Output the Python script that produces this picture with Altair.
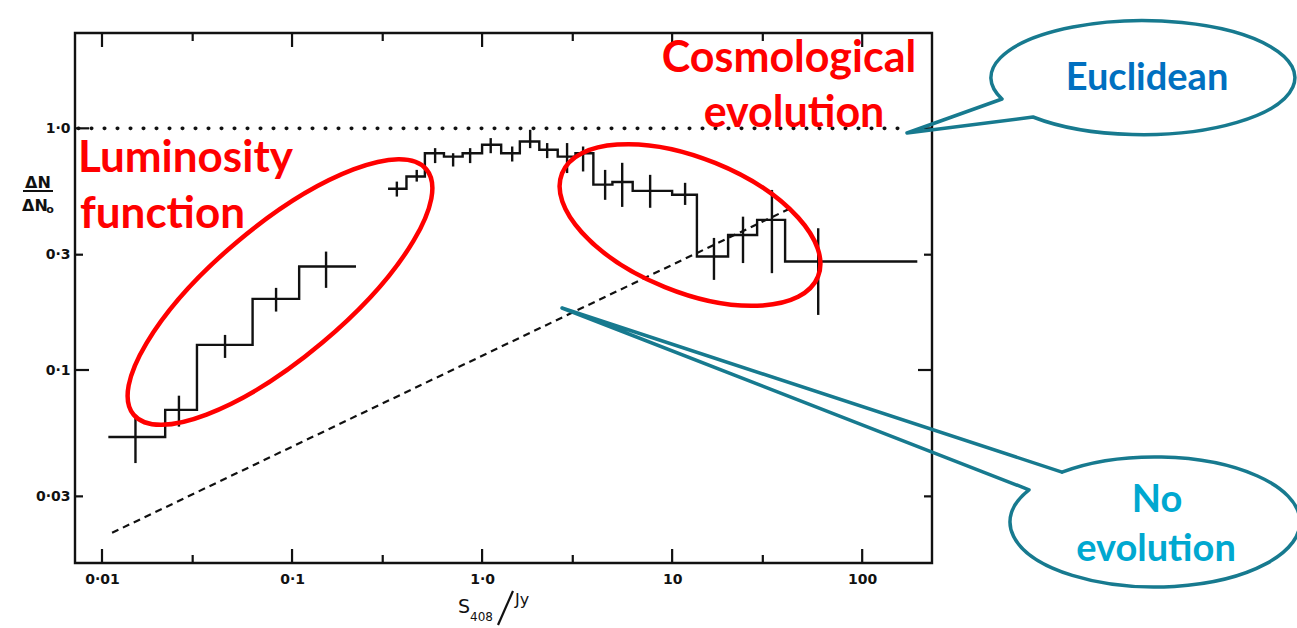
import altair as alt
import pandas as pd

# ---------------------------------------------------------------- axes
X_DOMAIN = [0.00721, 233.0]
Y_DOMAIN = [0.0159, 2.48]
x_major = [0.01, 0.1, 1.0, 10.0, 100.0]
x_major_labels = ["0·01", "0·1", "1·0", "10", "100"]
x_minor = [0.03, 0.3, 3.0, 30.0]
y_major = [1.0, 0.1]
y_minor = [0.3, 0.03]
y_labelled = [1.0, 0.3, 0.1, 0.03]
y_labels = ["1·0", "0·3", "0·1", "0·03"]

# ---------------------------------------------------------------- data
# faint-source counts (S408 below ~0.2 Jy): bin edges, normalised counts, error bars
low_edges = [0.0108, 0.0215, 0.0316, 0.062, 0.109, 0.217]
low_vals = [0.0528, 0.0684, 0.127, 0.197, 0.268]
low_err_x = [0.0150, 0.0254, 0.0444, 0.0824, 0.151]
low_err_hi = [0.0633, 0.0783, 0.1397, 0.2187, 0.309]
low_err_lo = [0.0412, 0.0583, 0.1122, 0.1745, 0.2187]

# brighter sources (S408 above ~0.3 Jy)
high_edges = [0.32, 0.40, 0.50, 0.63, 0.79, 1.0, 1.26, 1.58, 2.0, 2.5,
              3.1, 3.85, 4.85, 6.2, 10.0, 13.5, 19.7, 28.0, 39.3, 195.0]
high_vals = [0.562, 0.632, 0.789, 0.764, 0.789, 0.855, 0.789, 0.882, 0.815, 0.764,
             0.789, 0.585, 0.600, 0.551, 0.531, 0.295, 0.362, 0.418, 0.281]
high_err_x = [0.356, 0.453, 0.566, 0.704, 0.865, 1.11, 1.44, 1.79, 2.2, 2.8,
              3.4, 4.44, 5.46, 7.66, 11.7, 16.6, 23.6, 33.5, 58.7]
high_err_hi = [0.602, 0.673, 0.828, 0.789, 0.828, 0.911, 0.841, 0.986, 0.869, 0.869,
               0.841, 0.673, 0.720, 0.642, 0.595, 0.352, 0.431, 0.556, 0.386]
high_err_lo = [0.522, 0.602, 0.718, 0.695, 0.718, 0.789, 0.729, 0.828, 0.753, 0.653,
               0.663, 0.506, 0.473, 0.469, 0.482, 0.236, 0.277, 0.2516, 0.169]

# reference curves
euclid_s = [0.0075, 168.0]
euclid_n = [1.0, 1.0]
noevo_s = [0.0113, 43.4]
noevo_n = [0.0212, 0.473]

# ---------------------------------------------------------------- layout / style
W, H = 857, 530
PAD = {"left": 75, "top": 33, "right": 1297 - 75 - W, "bottom": 628 - 33 - H}
INK = "#111111"
RED = "#FF0000"
TEAL = "#177a8f"
MAJOR_LEN, MINOR_LEN = 14, 8
LINE_W = 2.4


def step_rows(edges, vals, group):
    rows = [{"s": e, "n": v, "g": group} for e, v in zip(edges[:-1], vals)]
    rows.append({"s": edges[-1], "n": vals[-1], "g": group})
    return rows


steps = pd.DataFrame(step_rows(low_edges, low_vals, "faint") +
                     step_rows(high_edges, high_vals, "bright"))
errs = pd.DataFrame({
    "s": low_err_x + high_err_x,
    "lo": low_err_lo + high_err_lo,
    "hi": low_err_hi + high_err_hi,
})
euclid = pd.DataFrame({"s": euclid_s, "n": euclid_n})
noevo = pd.DataFrame({"s": noevo_s, "n": noevo_n})


def label_expr(values, labels):
    expr = "''"
    for v, t in reversed(list(zip(values, labels))):
        expr = f"abs(datum.value - {v}) < {v} * 1e-6 ? '{t}' : ({expr})"
    return expr


xs = alt.Scale(type="log", domain=X_DOMAIN, nice=False)
ys = alt.Scale(type="log", domain=Y_DOMAIN, nice=False)

x_axis = alt.Axis(values=x_major, labelExpr=label_expr(x_major, x_major_labels),
                  tickSize=0, domain=False, grid=False, title=None,
                  labelFont="DejaVu Sans", labelFontSize=14, labelFontWeight="bold",
                  labelColor=INK, labelPadding=9, labelOverlap=False, labelFlush=False)
y_axis = alt.Axis(values=y_labelled, labelExpr=label_expr(y_labelled, y_labels),
                  tickSize=0, domain=False, grid=False, title=None,
                  labelFont="DejaVu Sans", labelFontSize=14, labelFontWeight="bold",
                  labelColor=INK, labelPadding=5, labelOverlap=False, labelFlush=False)

X = alt.X("s:Q", scale=xs, axis=x_axis)
Y = alt.Y("n:Q", scale=ys, axis=y_axis)

# histogram
hist = alt.Chart(steps).mark_line(interpolate="step-after", color=INK, strokeWidth=LINE_W).encode(
    x=X, y=Y, detail="g:N", order=alt.Order("s:Q"))
bars = alt.Chart(errs).mark_rule(color=INK, strokeWidth=LINE_W).encode(
    x=alt.X("s:Q", scale=xs), y=alt.Y("lo:Q", scale=ys), y2="hi:Q")

euclid_line = alt.Chart(euclid).mark_line(
    color=INK, strokeWidth=3.6, strokeDash=[0.5, 12.5], strokeCap="round").encode(
    x=alt.X("s:Q", scale=xs), y=alt.Y("n:Q", scale=ys))
noevo_line = alt.Chart(noevo).mark_line(
    color=INK, strokeWidth=2.2, strokeDash=[7, 5]).encode(
    x=alt.X("s:Q", scale=xs), y=alt.Y("n:Q", scale=ys))

# inward tick marks on all four sides of the frame (short line segments)
tick_layers = []
for vals, ln in ((x_major, MAJOR_LEN), (x_minor, MINOR_LEN)):
    d = pd.DataFrame({"s": vals})
    for y0, y1 in ((H, H - ln), (0, ln)):
        tick_layers.append(alt.Chart(d).mark_rule(color=INK, strokeWidth=2.2).encode(
            x=alt.X("s:Q", scale=xs), x2="s:Q", y=alt.value(y0), y2=alt.value(y1)))
for vals, ln in ((y_major, MAJOR_LEN), (y_minor, MINOR_LEN)):
    d = pd.DataFrame({"n": vals})
    for x0, x1 in ((0, ln), (W, W - ln)):
        tick_layers.append(alt.Chart(d).mark_rule(color=INK, strokeWidth=2.2).encode(
            y=alt.Y("n:Q", scale=ys), y2="n:Q", x=alt.value(x0), x2=alt.value(x1)))

one = alt.Data(values=[{"k": 0}])


def text(t, x, y, size, color=INK, font="DejaVu Sans", weight="normal", align="center",
         baseline="alphabetic", angle=0):
    return alt.Chart(one).mark_text(
        text=t, fontSize=size, color=color, font=font, fontWeight=weight,
        align=align, baseline=baseline, angle=angle).encode(
        x=alt.value(x), y=alt.value(y))


def outline(path, x, y, color, width, angle=0):
    return alt.Chart(one).mark_point(
        shape=path, size=4, filled=False, stroke=color, strokeWidth=width,
        opacity=1, strokeCap="round", strokeJoin="round").encode(
        x=alt.value(x), y=alt.value(y), angle=alt.value(angle))


def ellipse_path(a, b):
    return f"M {a} 0 A {a} {b} 0 1 1 {-a} 0 A {a} {b} 0 1 1 {a} 0 Z"


# axis titles
ytitle = [
    text("ΔN", -37, 155, 16, weight="bold"),
    alt.Chart(one).mark_rule(color=INK, strokeWidth=2).encode(
        x=alt.value(-52), x2=alt.value(-22), y=alt.value(158), y2=alt.value(158)),
    text("ΔN", -40, 178, 16, weight="bold"),
    text("o", -25, 180, 11, weight="bold"),
]
xtitle = [
    text("S", 383, 580, 19, align="left"),
    text("408", 395, 588, 12, align="left"),
    alt.Chart(one).mark_rule(color=INK, strokeWidth=2.2).encode(
        x=alt.value(423), x2=alt.value(438), y=alt.value(592), y2=alt.value(558)),
    text("Jy", 440, 572, 16, align="left"),
]

# annotations
ann = [
    outline(ellipse_path(191, 66), 205, 259, RED, 4.5, 320),
    outline(ellipse_path(138, 67), 615, 192, RED, 4.5, 22),
    text("Luminosity", 3, 139, 44, RED, "Lato", "bold", "left"),
    text("function", 5, 195, 44, RED, "Lato", "bold", "left"),
    text("Cosmological", 714, 39, 43, RED, "Lato", "bold"),
    text("evolution", 719, 94, 43, RED, "Lato", "bold"),
    outline("M -141 21 L -236 55 L -110 39 A 152 57 0 1 0 -141 21", 1068, 45, TEAL, 3.5),
    text("Euclidean", 1072, 57, 38, "#0070C0", "Lato", "bold"),
    outline("M -93 -49.9 L -593 -214 L -126 -32.2 A 145 65 0 1 0 -93 -49.9", 1080, 489, TEAL, 3.5),
    text("No", 1082, 479, 38, "#00A8D0", "Lato", "bold"),
    text("evolution", 1081, 528, 38, "#00A8D0", "Lato", "bold"),
]

chart = alt.layer(
    noevo_line, euclid_line, hist, bars, *tick_layers, *ytitle, *xtitle, *ann
).properties(
    width=W, height=H, padding=PAD, autosize=alt.AutoSizeParams(type="none"),
    background="white",
).configure_view(stroke=INK, strokeWidth=2.4)

chart.save("out.html", embed_options={"renderer": "svg", "actions": False})
